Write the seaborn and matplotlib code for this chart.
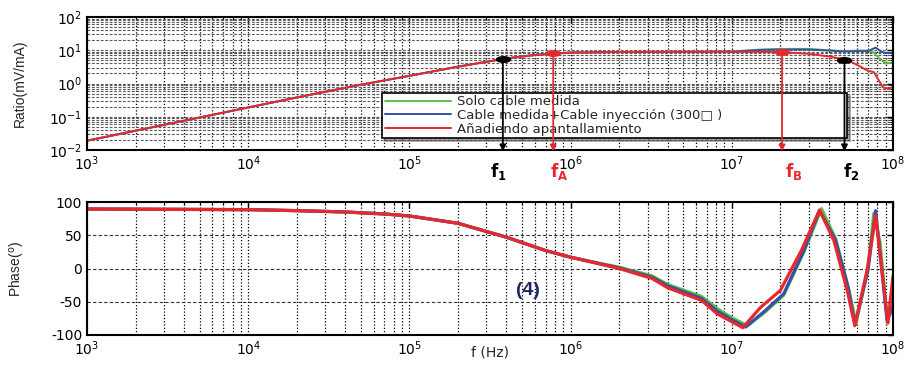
import numpy as np
import pandas as pd
import matplotlib
matplotlib.use('Agg')
import matplotlib.pyplot as plt
import matplotlib.transforms as mtransforms
from matplotlib.path import Path
from matplotlib.ticker import LogLocator, NullFormatter, FixedLocator
import seaborn as sns

# ---- datos ----
series = ['Solo cable medida',
          'Cable medida+Cable inyección (300\u25a1 )',
          'Añadiendo apantallamiento']
colores = ['#5fbf45', '#3352a8', '#e8282e']

# modulo (mV/mA), tramo comun a las tres curvas
f_mag_comun = [1e3, 2e3, 5e3, 1e4, 2e4, 5e4, 1e5, 2e5, 4e5, 6e5, 8e5, 1e6, 2e6, 5e6, 1e7]
mag_comun = [0.019, 0.038, 0.095, 0.19, 0.38, 0.92, 1.7, 3.2, 5.7, 7.2, 8.0, 8.5, 8.9, 9.0, 9.1]

f_mag_verde = [1.5e7, 2e7, 3e7, 4e7, 5e7, 6e7, 7e7, 7.5e7, 8.3e7, 9e7, 1e8]
mag_verde = [10.5, 11.0, 11.0, 10.0, 9.3, 9.8, 9.8, 9.0, 5.5, 4.0, 4.3]

f_mag_azul = [1.5e7, 2e7, 3e7, 4e7, 5e7, 6e7, 7e7, 7.8e7, 8.5e7, 9e7, 1e8]
mag_azul = [10.2, 10.5, 10.5, 9.8, 9.2, 9.4, 9.5, 12.0, 9.0, 8.2, 8.4]

f_mag_rojo = [2e7, 3e7, 4.1e7, 5.2e7, 6.3e7, 7.0e7, 7.6e7, 8.2e7, 8.7e7, 9.3e7, 1e8]
mag_rojo = [8.9, 7.8, 6.4, 5.1, 3.2, 2.4, 2.2, 1.2, 0.75, 0.7, 0.78]

# fase (grados), tramo comun
f_fase_comun = [1e3, 1e4, 2e4, 4e4, 7e4, 1e5, 2e5, 4e5, 7e5, 1e6]
fase_comun = [89.5, 88.5, 87, 85, 82, 79, 68, 47, 27, 17]

f_fase_verde = [1.5e6, 2e6, 3.2e6, 4e6, 6.5e6, 8.1e6, 1e7, 1.25e7, 1.6e7, 2.1e7, 2.8e7,
                3.6e7, 4.4e7, 5.3e7, 5.9e7, 7e7, 7.6e7, 8.3e7, 9.2e7, 1e8]
fase_verde = [8, 2, -11, -24, -42, -60, -74, -86, -66, -40, 25,
              90, 45, -30, -82, 0, 83, 40, -75, -60]

f_fase_azul = [1.5e6, 2e6, 3.2e6, 4e6, 6.5e6, 8.1e6, 1e7, 1.22e7, 1.6e7, 2.1e7, 2.8e7,
               3.5e7, 4.4e7, 5.3e7, 5.8e7, 7e7, 7.8e7, 9.2e7, 1e8]
fase_azul = [7.5, 1, -13, -26, -45, -64, -77, -88, -64, -38, 27,
             87, 43, -31, -85, -2, 87, -80, -55]

f_fase_rojo = [1.5e6, 2e6, 3.2e6, 4e6, 6.5e6, 8.1e6, 1e7, 1.17e7, 1.5e7, 2e7, 2.7e7,
               3.5e7, 4.3e7, 5.2e7, 5.8e7, 6.9e7, 7.8e7, 9.3e7, 1e8]
fase_rojo = [7, 0, -15, -29, -48, -68, -80, -89, -59, -33, 27,
             88, 42, -33, -86, -3, 80, -82, -11]

# frecuencias marcadas
marcas_f = [3.8e5, 7.8e5, 2.05e7, 5.0e7]
marcas_v = [5.6, 8.0, 8.6, 5.2]
marcas_txt = [r'$\mathbf{f}_\mathbf{1}$', r'$\mathbf{f}_\mathbf{A}$',
              r'$\mathbf{f}_\mathbf{B}$', r'$\mathbf{f}_\mathbf{2}$']
marcas_col = ['black', '#e8282e', '#e8282e', 'black']


def tabla(curvas):
    partes = []
    for nombre, f, v in curvas:
        partes.append(pd.DataFrame({'f': f, 'v': v, 'serie': nombre}))
    return pd.concat(partes, ignore_index=True)


df_mag = tabla([
    (series[0], f_mag_comun + f_mag_verde, mag_comun + mag_verde),
    (series[1], f_mag_comun + f_mag_azul, mag_comun + mag_azul),
    (series[2], f_mag_comun[:-1] + f_mag_rojo, mag_comun[:-1] + mag_rojo),
])
df_fase = tabla([
    (series[0], f_fase_comun + f_fase_verde, fase_comun + fase_verde),
    (series[1], f_fase_comun + f_fase_azul, fase_comun + fase_azul),
    (series[2], f_fase_comun + f_fase_rojo, fase_comun + fase_rojo),
])

sns.set_style('white')
plt.rcParams['font.family'] = ['DejaVu Sans']
plt.rcParams['axes.unicode_minus'] = False
narrow = ['Liberation Sans Narrow', 'Liberation Sans', 'DejaVu Sans']

fig = plt.figure(figsize=(9.09, 3.66), dpi=100)
ax1 = fig.add_axes([87 / 909, 1 - 150 / 366, 806 / 909, 133 / 366])
ax2 = fig.add_axes([87 / 909, 1 - 335 / 366, 806 / 909, 133 / 366])

for ax in (ax1, ax2):
    ax.set_xscale('log')

pal = dict(zip(series, colores))
sns.lineplot(data=df_mag, x='f', y='v', hue='serie', hue_order=series, palette=pal,
             estimator=None, linewidth=1.4, legend=False, ax=ax1)
sns.lineplot(data=df_fase, x='f', y='v', hue='serie', hue_order=series, palette=pal,
             estimator=None, linewidth=2.3, legend=False, ax=ax2)

ax1.set_yscale('log')
ax1.set_ylim(1e-2, 1e2)
ax2.set_ylim(-100, 100)
ax2.yaxis.set_major_locator(FixedLocator([-100, -50, 0, 50, 100]))

punteado = (0, (1, 1.6))
for ax in (ax1, ax2):
    ax.set_xlim(1e3, 1e8)
    ax.xaxis.set_major_locator(LogLocator(base=10, numticks=10))
    ax.xaxis.set_minor_locator(LogLocator(base=10, subs=np.arange(2, 10), numticks=100))
    ax.xaxis.set_minor_formatter(NullFormatter())
    ax.grid(True, which='both', axis='x', color='black', linestyle=punteado, linewidth=0.9)
    ax.tick_params(which='both', direction='in', top=True, right=True, labelsize=10,
                   colors='black')
    ax.tick_params(which='major', length=4, width=1)
    ax.tick_params(which='minor', length=2, width=0.8)
    for s in ax.spines.values():
        s.set_linewidth(1.5)
        s.set_color('black')
    ax.set_axisbelow(True)

ax1.yaxis.set_major_locator(LogLocator(base=10, numticks=10))
ax1.yaxis.set_minor_locator(LogLocator(base=10, subs=np.arange(2, 10), numticks=100))
ax1.yaxis.set_minor_formatter(NullFormatter())
ax1.grid(True, which='both', axis='y', color='0.35', linestyle=(0, (2.5, 1.5)), linewidth=0.8)
ax2.grid(True, which='major', axis='y', color='0.2', linestyle=(0, (3, 2)), linewidth=0.8)

ax1.set_xlabel('')
ax1.set_ylabel('Ratio(mV/mA)', fontfamily=narrow, fontsize=10)
ax2.set_ylabel(r'Phase($^{\rm o}$)', fontfamily=narrow, fontsize=10)
ax2.set_xlabel('f (Hz)', fontsize=10)
ax1.yaxis.set_label_coords(-0.074, 0.5)
ax2.yaxis.set_label_coords(-0.074, 0.5)
ax2.xaxis.set_label_coords(0.5, -0.08)

# leyenda
leg = ax1.legend(handles=ax1.lines[:3], labels=series, loc='upper left',
                 bbox_to_anchor=(0.366, 0.09, 0.577, 0.34), mode='expand',
                 fontsize=9.5, frameon=True, fancybox=False, shadow=True,
                 labelspacing=0.05, borderpad=0.2, handlelength=5.0, handletextpad=0.5,
                 borderaxespad=0)
leg.get_frame().set_edgecolor('black')
leg.get_frame().set_linewidth(1.2)
leg.set_zorder(4)

# marcas de frecuencia
elipse = Path.unit_circle().transformed(mtransforms.Affine2D().scale(1.0, 0.4))
trans1 = mtransforms.blended_transform_factory(ax1.transData, ax1.transAxes)
desplaz = [-9, -2, 2, -1]
for f, v, txt, col, dx in zip(marcas_f, marcas_v, marcas_txt, marcas_col, desplaz):
    ax1.annotate('', xy=(f, -0.01), xycoords=trans1, xytext=(f, v), textcoords='data',
                 arrowprops=dict(arrowstyle='-|>', color=col, lw=1.3, mutation_scale=9,
                                 shrinkA=0, shrinkB=0),
                 annotation_clip=False, zorder=6)
    ax1.plot([f], [v], marker=elipse, markersize=10, color=col, linestyle='none', zorder=7)
    ax1.annotate(txt, xy=(f, 0), xycoords=trans1, xytext=(dx, -8), textcoords='offset points',
                 ha='left', va='top', fontsize=12, color=col, annotation_clip=False)

ax2.text(5.4e5, -33, '(4)', fontsize=14, fontweight='bold', color='#1f2560',
         fontfamily=['Liberation Sans', 'DejaVu Sans'], ha='center', va='center')

fig.savefig('out.png', dpi=100)
